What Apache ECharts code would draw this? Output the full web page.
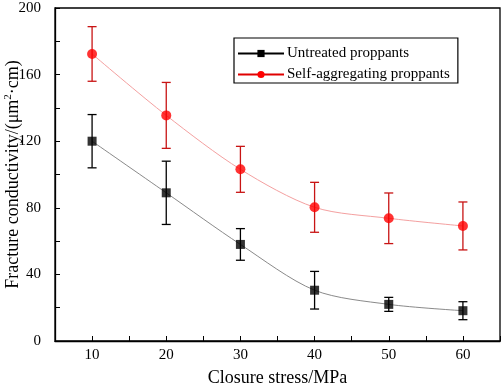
<!DOCTYPE html>
<html>
<head>
<meta charset="utf-8">
<script src="https://cdn.jsdelivr.net/npm/echarts@6/dist/echarts.min.js"></script>
<style>html,body{margin:0;padding:0;background:#fff;}#c{width:503px;height:386px;}</style>
</head>
<body>
<div id="c"></div>
<script>
var stress = [10, 20, 30, 40, 50, 60];
var untreated = [120, 89, 58, 30.5, 22, 18.2];
var untreatedErr = [16, 19, 9.5, 11.3, 4.2, 5.4];
var selfAgg = [172.4, 135.5, 103.1, 80.3, 73.7, 69.1];
var selfAggErr = [16.4, 19.8, 13.8, 15, 15.2, 14.4];
var seriesNames = ['Untreated proppants', 'Self-aggregating proppants'];
var xTitle = 'Closure stress/MPa';
var yTitle = 'Fracture conductivity/(\u03bcm{sup|2}\u00b7cm)';

var FONT = 'Liberation Serif';
function pairs(xs, ys) { return xs.map(function (x, i) { return [x, ys[i]]; }); }
function errData(xs, ys, es) { return xs.map(function (x, i) { return [x, ys[i] - es[i], ys[i] + es[i]]; }); }
function errBar(color) {
  return function (params, api) {
    var x = api.value(0);
    var lo = api.coord([x, api.value(1)]);
    var hi = api.coord([x, api.value(2)]);
    var hw = 4.5;
    var st = { stroke: color, lineWidth: 1.3 };
    return {
      type: 'group',
      children: [
        { type: 'line', shape: { x1: lo[0], y1: lo[1], x2: hi[0], y2: hi[1] }, style: st },
        { type: 'line', shape: { x1: lo[0] - hw, y1: lo[1], x2: lo[0] + hw, y2: lo[1] }, style: st },
        { type: 'line', shape: { x1: hi[0] - hw, y1: hi[1], x2: hi[0] + hw, y2: hi[1] }, style: st }
      ]
    };
  };
}

var chart = echarts.init(document.getElementById('c'), null, { renderer: 'canvas' });
chart.setOption({
  animation: false,
  backgroundColor: '#fff',
  textStyle: { fontFamily: FONT },
  grid: { left: 55, right: 3, top: 8, bottom: 45, containLabel: false, outerBoundsMode: 'none',
    show: true, borderColor: '#000', borderWidth: 1.3 },
  legend: {
    data: seriesNames,
    orient: 'vertical',
    left: 234, top: 38,
    borderColor: '#000', borderWidth: 1.2,
    padding: [8, 8, 1, 3],
    itemGap: 6,
    itemWidth: 46, itemHeight: 9,
    textStyle: { fontFamily: FONT, fontSize: 15, color: '#000', padding: [0, 0, 0, -2] }
  },
  xAxis: {
    type: 'value', min: 5, max: 65, interval: 5,
    name: xTitle, nameLocation: 'middle', nameGap: 28, nameMoveOverlap: false,
    nameTextStyle: { fontFamily: FONT, fontSize: 18, color: '#000' },
    axisLine: { lineStyle: { color: '#000', width: 1.3 } },
    axisTick: { inside: true, length: 5, lineStyle: { color: '#000' } },
    splitLine: { show: false },
    axisLabel: { fontFamily: FONT, fontSize: 15, color: '#000', margin: 7,
      formatter: function (v) { return (v % 10 === 0) ? String(v) : ''; } }
  },
  yAxis: {
    type: 'value', min: 0, max: 200, interval: 20,
    name: yTitle, nameLocation: 'middle', nameGap: 32, nameRotate: 90, nameMoveOverlap: false,
    nameTextStyle: { fontFamily: FONT, fontSize: 18, color: '#000',
      rich: { sup: { fontFamily: FONT, fontSize: 11, color: '#000', verticalAlign: 'bottom', padding: [0, 0, 9, 0] } } },
    axisLine: { lineStyle: { color: '#000', width: 1.3 } },
    axisTick: { inside: true, length: 5, lineStyle: { color: '#000' } },
    splitLine: { show: false },
    axisLabel: { fontFamily: FONT, fontSize: 15, color: '#000', margin: 14,
      formatter: function (v) { return (v % 40 === 0) ? String(v) : ''; } }
  },
  series: [
    { type: 'line', data: pairs(stress, untreated), smooth: 0.3, symbol: 'none',
      lineStyle: { color: '#8a8a8a', width: 1 }, silent: true, z: 1 },
    { type: 'line', data: pairs(stress, selfAgg), smooth: 0.3, symbol: 'none',
      lineStyle: { color: '#f4a0a0', width: 1 }, silent: true, z: 1 },
    { type: 'custom', data: errData(stress, untreated, untreatedErr), renderItem: errBar('#000'), z: 2 },
    { type: 'custom', data: errData(stress, selfAgg, selfAggErr), renderItem: errBar('#c81414'), z: 2 },
    { type: 'scatter', data: pairs(stress, untreated), symbol: 'rect', symbolSize: 9,
      itemStyle: { color: '#000' }, z: 3 },
    { type: 'scatter', data: pairs(stress, selfAgg), symbol: 'circle', symbolSize: 10,
      itemStyle: { color: '#ff0000' }, z: 3 },
    { name: seriesNames[0], type: 'line', data: [], symbol: 'rect', symbolSize: 8,
      itemStyle: { color: '#000' }, lineStyle: { color: '#000', width: 1.2 } },
    { name: seriesNames[1], type: 'line', data: [], symbol: 'circle', symbolSize: 9,
      itemStyle: { color: '#ff0000' }, lineStyle: { color: '#e00000', width: 1.2 } }
  ]
});
</script>
</body>
</html>
